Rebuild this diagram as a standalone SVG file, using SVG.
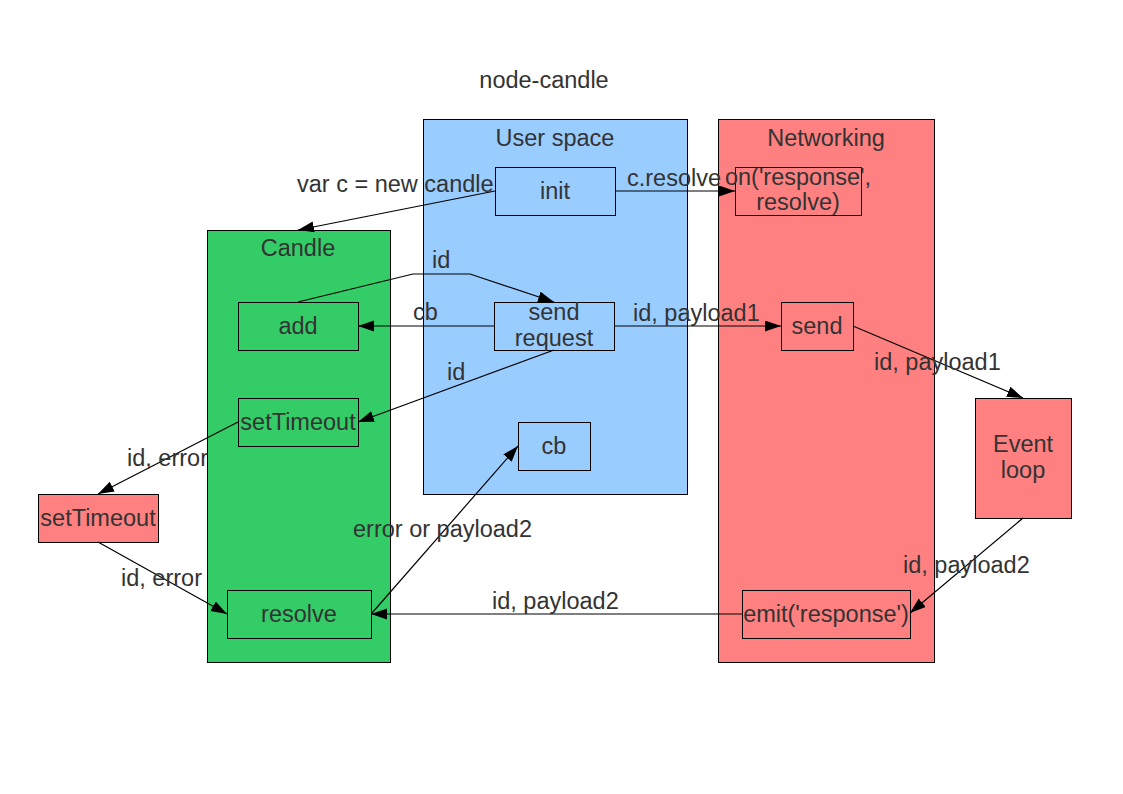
<svg xmlns="http://www.w3.org/2000/svg" width="1123" height="794" viewBox="0 0 1123 794">
<style>
text{font-family:"Liberation Sans",Arial,sans-serif;font-size:23.5px;fill:#333333}
.c{text-anchor:middle}
.box{stroke:#000;stroke-width:1}
.blue{fill:#99ccff}
.red{fill:#ff8080}
.green{fill:#33cc66}
.edge{fill:none;stroke:#000;stroke-width:1.2}
</style>
<defs>
<marker id="ah" markerUnits="userSpaceOnUse" markerWidth="17" markerHeight="12" refX="16" refY="5.5" orient="auto">
<path d="M0,0 L16,5.5 L0,11 z" fill="#000"/>
</marker>
</defs>
<rect width="1123" height="794" fill="#fff"/>
<text class="c" x="544" y="88">node-candle</text>

<g id="userspace">
<rect class="box blue" x="423.5" y="119.5" width="264" height="375"/>
<text class="c" x="555" y="146">User space</text>
</g>
<g id="networking">
<rect class="box red" x="718.5" y="119.5" width="216" height="543"/>
<text class="c" x="826" y="146">Networking</text>
</g>
<g id="candle">
<rect class="box green" x="207.5" y="230.5" width="183" height="432"/>
<text class="c" x="298" y="256">Candle</text>
</g>

<g id="init">
<rect class="box blue" x="495.5" y="167.5" width="120" height="48"/>
<text class="c" x="555" y="199">init</text>
</g>
<g id="on-response">
<rect class="box red" x="735.5" y="167.5" width="126" height="48"/>
<text class="c" x="798" y="185">on('response',</text>
<text class="c" x="798" y="210">resolve)</text>
</g>
<g id="add">
<rect class="box green" x="238.5" y="302.5" width="120" height="48"/>
<text class="c" x="298" y="334">add</text>
</g>
<g id="send-request">
<rect class="box blue" x="494.5" y="302.5" width="120" height="48"/>
<text class="c" x="554" y="320">send</text>
<text class="c" x="554" y="346">request</text>
</g>
<g id="send">
<rect class="box red" x="781.5" y="302.5" width="72" height="48"/>
<text class="c" x="817" y="334">send</text>
</g>
<g id="settimeout-candle">
<rect class="box green" x="238.5" y="398.5" width="120" height="48"/>
<text class="c" x="298" y="430">setTimeout</text>
</g>
<g id="cb">
<rect class="box blue" x="518.5" y="422.5" width="72" height="48"/>
<text class="c" x="554" y="454">cb</text>
</g>
<g id="event-loop">
<rect class="box red" x="975.5" y="398.5" width="96" height="120"/>
<text class="c" x="1023" y="452">Event</text>
<text class="c" x="1023" y="478">loop</text>
</g>
<g id="settimeout-ext">
<rect class="box red" x="38.5" y="494.5" width="120" height="48"/>
<text class="c" x="98" y="526">setTimeout</text>
</g>
<g id="resolve">
<rect class="box green" x="227.5" y="590.5" width="144" height="48"/>
<text class="c" x="299" y="622">resolve</text>
</g>
<g id="emit">
<rect class="box red" x="742.5" y="590.5" width="168" height="48"/>
<text class="c" x="826" y="622">emit('response')</text>
</g>

<g id="connectors">
<path class="edge" d="M495,191 L298,230" marker-end="url(#ah)"/>
<text x="297" y="192">var c = new candle</text>
<path class="edge" d="M615,191 L735,191" marker-end="url(#ah)"/>
<text x="627" y="186">c.resolve</text>
<path class="edge" d="M298,302 L413,274 L470,274 L554,302" marker-end="url(#ah)"/>
<text x="432" y="268">id</text>
<path class="edge" d="M494,326 L358,326" marker-end="url(#ah)"/>
<text x="413" y="320">cb</text>
<path class="edge" d="M554,350 L358,422" marker-end="url(#ah)"/>
<text x="447" y="380">id</text>
<path class="edge" d="M614,326 L781,326" marker-end="url(#ah)"/>
<text x="633" y="321">id, payload1</text>
<path class="edge" d="M853,326 L1023,398" marker-end="url(#ah)"/>
<text x="874" y="370">id, payload1</text>
<path class="edge" d="M238,422 L98,494" marker-end="url(#ah)"/>
<text x="127" y="466">id, error</text>
<path class="edge" d="M98,542 L227,614" marker-end="url(#ah)"/>
<text x="121" y="586">id, error</text>
<path class="edge" d="M372,613 L518,446" marker-end="url(#ah)"/>
<text x="353" y="537">error or payload2</text>
<path class="edge" d="M742,614 L371,614" marker-end="url(#ah)"/>
<text x="492" y="609">id, payload2</text>
<path class="edge" d="M1023,518 L910,613" marker-end="url(#ah)"/>
<text x="903" y="573">id, payload2</text>
</g>
</svg>
